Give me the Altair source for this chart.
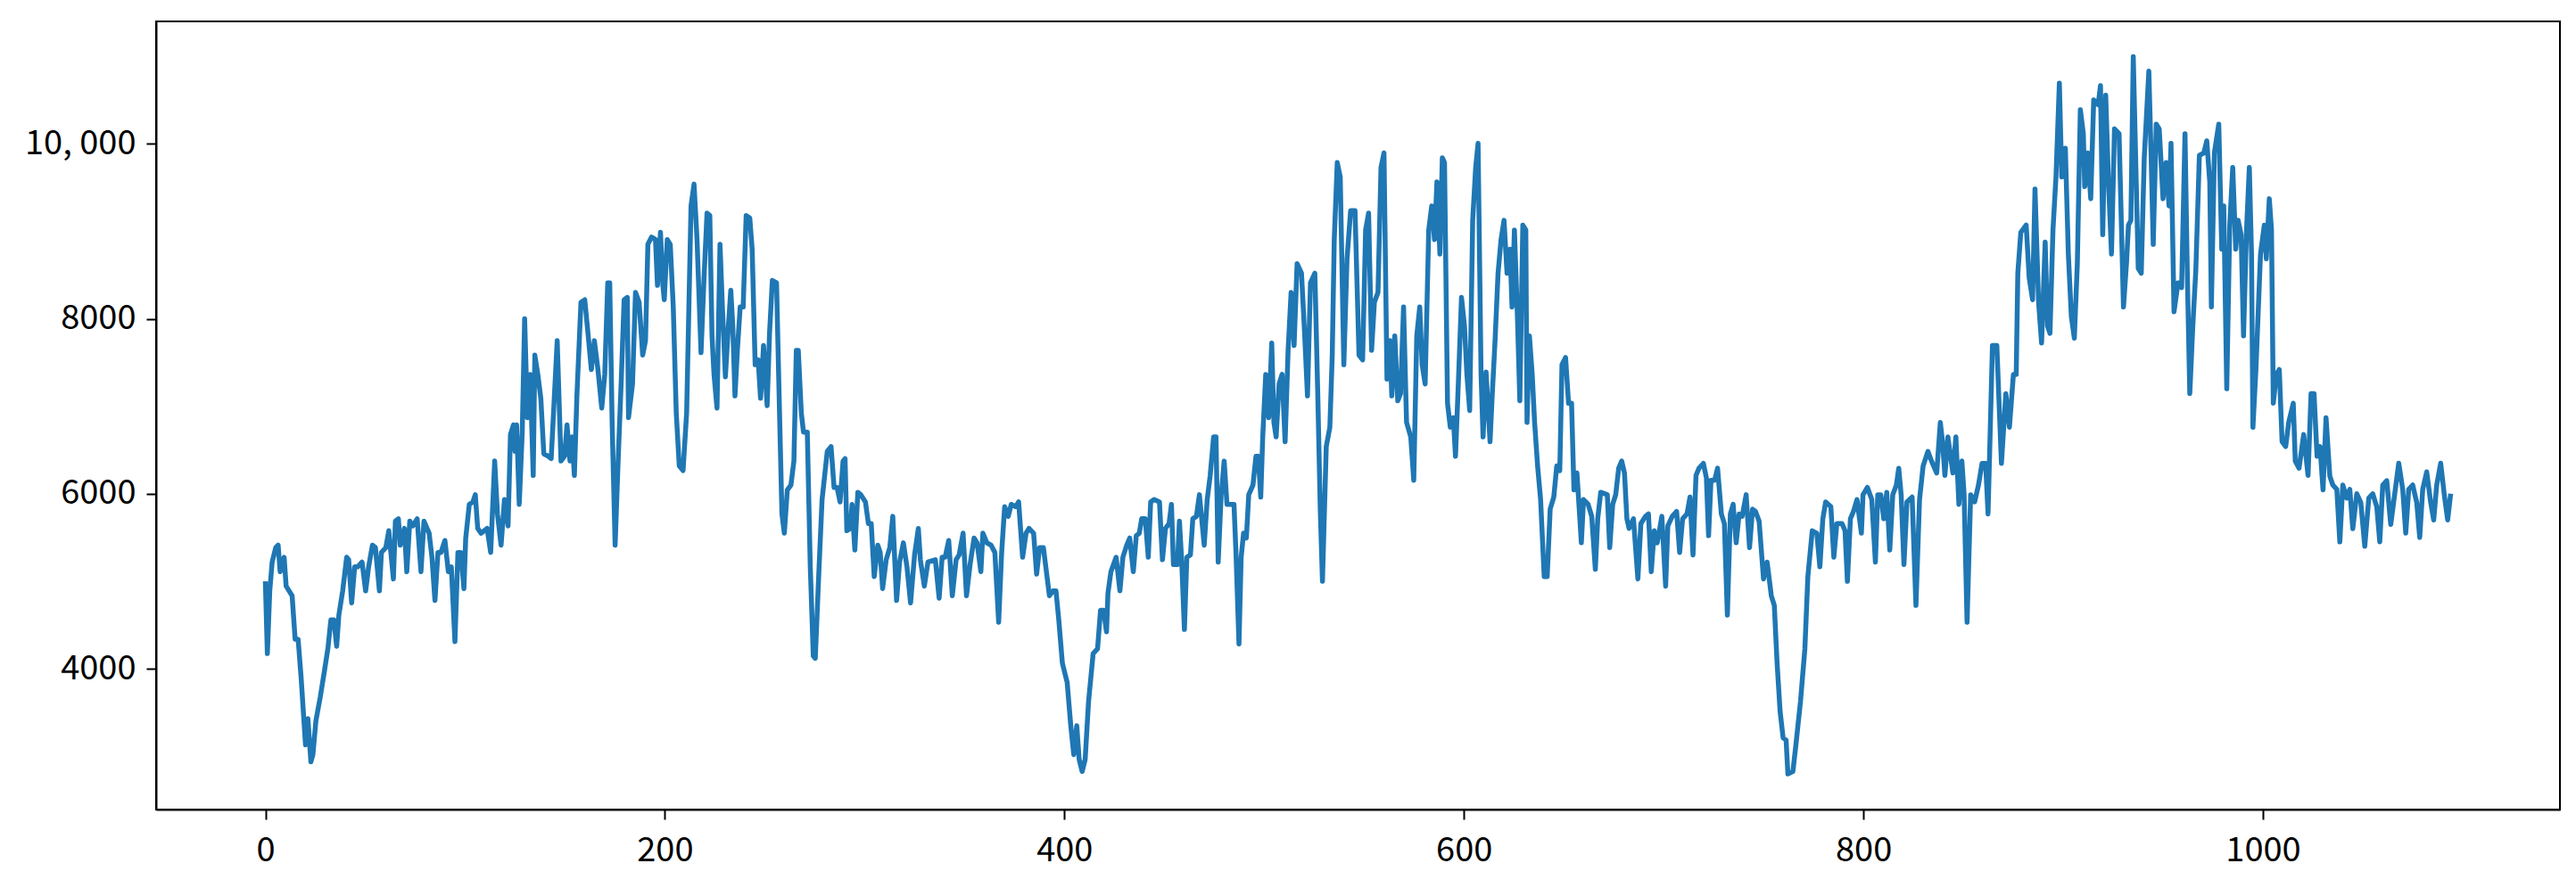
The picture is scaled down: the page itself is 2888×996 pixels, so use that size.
import altair as alt
import pandas as pd

# (day, value) vertices
seg1 = [(0,4999),(1,4173),(2.2,4889),(3.4,5219),(5.2,5384),(6.4,5412),(7.4,5109),(9.4,5274),(10.4,4944),
        (13.4,4834),(14.9,4338),(16.4,4338),(17.9,3898),(20.1,3128),(21.3,3430),(22.8,2935),(23.8,3018),
        (25.3,3403),(27.5,3678),(29.8,4008),(31.3,4228),(32.8,4558),(34.3,4558),(35.7,4256),(36.8,4613),
        (38.7,4889),(40.7,5274),(41.7,5246),(43.2,4751),(44.7,5164),(46.2,5164),(48.4,5219),(50.2,4889),
        (51.7,5164),(53.6,5412),(55.1,5384),(57.1,4889),(58.1,5329),(60.3,5384),(61.8,5577),(64.1,5026),
        (65.1,5687),(66.6,5714),(67.5,5412),(69.6,5604),(70.8,5109),(72.3,5687),(73.8,5632),(76,5714),
        (77.9,5109),(79.4,5687),(82,5549),(83.4,5274),(84.9,4779),(86.4,5329),(87.9,5329),(89.9,5466)]
seg2 = [(91.6,5109),(93.1,5164),(94.9,4310),(96.4,5329),(97.9,5329),(99.4,4916),(100.3,5494),(102.1,5879),
        (103.9,5907),(105.1,5989),(106.3,5604),(108,5549),(111,5604),(112.8,5329),(114.8,6374),(116.2,5769),
        (118,5412),(119.7,5934),(121.5,5632),(122.7,6677),(124.2,6787),(125,6484),(125.8,6787),(127.1,5879),
        (128.6,6705),(129.8,8000),(131.2,6870),(132.6,7365),(134.1,6209),(134.9,7585),(136.4,7365),(137.9,7090),
        (139.4,6457),(141.6,6429),(143.1,6402),(146.1,7750),(148,6374),(149.8,6429),(151,6787),(152.5,6374),
        (153.5,6650),(154.7,6209),(156,7145),(158,8190),(159.9,8218),(161.4,7860),(163.2,7420),(164.7,7750),
        (166.5,7420),(168.4,6980),(169.9,7365),(171.4,8411),(172.4,8411),(173.6,6815),(175.1,5412),(176.6,6374),
        (178.1,7255),(179.6,8218),(181.2,8245),(181.8,6870),(183.8,7255),(185.3,8301)]
seg3 = [(187.1,8190),(188.9,7585),(190.3,7750),(191.5,8851),(193.3,8934),(195.3,8906),(196.3,8383),(197.8,8989),
        (199,8383),(199.7,8218),(201.2,8906),(202.7,8851),(204.2,8135),(205.7,6925),(207.2,6319),(209.1,6264),
        (210.9,6925),(213.1,9291),(214.6,9539),(216.1,8906),(218.1,7613),(219.6,8466),(221.1,9208),(222.5,9181),
        (223.6,7805),(224.6,7365),(226.1,6980),(227.6,8851),(228.8,8135),(230.3,7337),(231.8,7915),(233,8328),
        (234,7915),(235.1,7118),(236.3,7640),(237.7,8135),(239.2,8135),(240.7,9181),(242.5,9153),(243.7,8796),
        (245.2,7475),(246.7,7530),(247.9,7090),(249.4,7695),(251.2,7007),(252.4,7833),(253.8,8438),(255.9,8411),
        (257.4,6925),(258.6,5769),(259.8,5549),(261.3,6044),(263.1,6099),(264.6,6374),(265.8,7640),(266.8,7640),
        (268.3,6925),(269.4,6705),(271.3,6705),(272.8,5164),(274.3,4145),(275.3,4118),(277.2,5164),(278.7,5934)]
seg4 = [(281.3,6484),(283.2,6539),(284.7,6072),(286.2,6072),(287.7,5907),(289.2,6374),(290.2,6402),(291.1,5577),
        (292.9,5604),(293.7,5879),(295.1,5357),(296.6,6017),(298.1,5989),(300.4,5907),(301.9,5659),(303.3,5659),
        (304.8,5054),(306.6,5412),(307.8,5329),(309,4916),(310.8,5246),(312.6,5384),(314.1,5742),(316,4779),
        (317.5,5219),(319.4,5439),(321.2,5164),(323,4751),(325,5301),(326.9,5604),(327.9,5246),(329.9,4944),
        (331.7,5219),(335.4,5246),(337.3,4806),(338.8,5274),(340.3,5274),(342.1,5466),(343.9,4834),(345.8,5246),
        (347.3,5301),(349.3,5549),(351,4834),(352.8,5191),(354.8,5494),(356.3,5439),(358.2,5109),(359.2,5549),
        (361.2,5439),(363.3,5412),(365.2,5329),(367.1,4531),(368.6,5329),(370.1,5852),(371.9,5742),(373.4,5879)]
seg5 = [(375.6,5852),(377.1,5907),(379.1,5274),(380.8,5549),(382.3,5604),(384.6,5549),(386.1,5081),(387.6,5384),
        (389.5,5384),(392.5,4834),(394.3,4889),(395.8,4889),(397.2,4558),(399,4063),(401.4,3843),(403.2,3348),
        (404.7,3018),(406.2,3348),(407.4,2963),(408.9,2825),(410.4,2963),(412.1,3623),(414.4,4173),(416.6,4228),
        (418.1,4668),(419.6,4668),(421.1,4421),(421.8,4861),(423.3,5109),(425.9,5274),(427.8,4889),(429.3,5274),
        (431.2,5412),(432.7,5494),(434.5,5109),(436,5521),(437.5,5549),(438.7,5714),(440.5,5714),(442,5274),
        (443.2,5907),(444.9,5934),(447.6,5907),(449.1,5246),(450.6,5604),(452.4,5659),(453.6,5879),(454.6,5191),
        (456.6,5191),(457.6,5687),(458.7,5246),(460.1,4448),(461.3,5274),(463.1,5301),(464.3,5714),(466.1,5742),
        (467.6,5989)]
seg6 = [(470,5412),(471.5,5934),(473,6209),(474.7,6650),(475.9,6650),(477,5219),(478.5,5989),(480,6374),
        (481.4,5879),(484.9,5879),(485.9,5329),(487.4,4283),(488.5,5274),(489.7,5549),(491.1,5494),(492.3,5989),
        (494.4,6099),(495.9,6429),(497.1,6429),(498.3,5962),(499.3,6650),(500.8,7365),(502.3,6870),(503.8,7723),
        (504.9,6815),(506,6650),(507.5,7255),(509,7365),(510.5,6595),(512,7640),(513.5,8301),(515,7695),
        (516.5,8631),(518.7,8521),(520.2,7860),(521.7,7118),(523.2,8411),(525.4,8521),(526.9,7090),(528.1,5824),
        (529.2,4999),(531.1,6540),(532.9,6760),(534.1,7585),(535.1,8906),(536.6,9786),(538.1,9621),(539.9,7475),
        (541.5,8686),(543.3,9236),(545.5,9236),(547.5,7585),(549.3,7530),(550.8,9016),(552.3,9208),(553.8,7640),
        (555.2,8190),(557,8301),(558.5,9731),(560,9896)]
seg7 = [(561.5,7310),(563,7750),(563.9,7118),(565.4,7805),(566.9,7063),(568.3,7145),(569.8,8135),(571.3,6815),
        (573.4,6650),(574.9,6154),(576.4,7805),(577.9,8135),(579.1,7475),(580.6,7255),(582.4,9016),(583.9,9291),
        (585.3,8906),(586.5,9566),(588,8741),(589.2,9841),(590.3,9786),(591.8,7035),(593.2,6760),(594.7,6870),
        (595.8,6429),(597.3,7310),(598.8,8245),(600.3,7915),(601.5,7365),(602.9,6952),(604.4,9126),(605.9,9731),
        (607.1,10006),(608.6,7365),(609.6,6650),(611.1,7393),(613.1,6595),(614.1,7090),(615.6,7750),(617.1,8521),
        (618.6,8906),(620.1,9126),(621.6,8521),(623.1,8796),(624.1,8135),(625.3,9016),(626.8,8025),(628,7063),
        (629.5,9071),(631,9016),(631.6,6815),(632.8,7805),(634.2,7365),(635.4,6815),(636.9,6319),(638.4,5934),
        (640.2,5054),(641.7,5054),(643.2,5824),(645,5962),(646.5,6319),(648,6264),(649.1,7475),(650.9,7558),
        (652.4,7035),(653.9,7035),(655.1,6044)]
seg8 = [(656.6,6237),(658.8,5439),(659.9,5934),(662.2,5879),(664,5742),(665.8,5136),(667,5714),(668.5,6017),
        (671.8,5989),(673,5384),(674.5,5879),(676,5989),(677.5,6292),(679,6374),(680.4,6237),(681.6,5714),
        (682.7,5604),(684.9,5714),(687.1,5026),(688.6,5659),(690.9,5742),(692.4,5769),(693.8,5109),(695.3,5577),
        (696.8,5439),(699.1,5742),(701,4944),(702.1,5632),(704.3,5742),(706.5,5797),(708,5329),(709.5,5714),
        (711.7,5769),(713.2,5962),(714.7,5301),(716.2,6209),(717.7,6292),(719.9,6347),(721.4,6182),(722.5,5521),
        (723.7,6154),(725.5,6154),(727,6292),(728.9,5769),(730.4,5659),(731.9,4613),(733.4,5769),(734.8,5879),
        (736.3,5439),(737.8,5769),(739.3,5742),(741.3,5989),(743,5384),(744.5,5824),(746,5797),(747.8,5687),
        (750,5026),(751.8,5219)]
seg9 = [(753.9,4834),(755.4,4723),(756.8,4063),(758.3,3513),(759.8,3210),(761.3,3183),(762.2,2797),(764.7,2825),
        (766.2,3128),(768.5,3623),(770.7,4228),(772.2,5054),(774.4,5577),(776.7,5549),(778.2,5164),(779.7,5714),
        (781.1,5907),(783.7,5852),(785.2,5274),(786.7,5659),(789.3,5659),(790.8,5577),(792,4999),(793.5,5714),
        (795,5797),(796.8,5934),(799,5549),(799.8,5989),(802,6072),(804.2,5934),(806,5219),(807.2,5989),
        (808.7,5989),(810.2,5714),(811.7,6017),(813.2,5357),(814.7,5989),(816.5,6099),(817.7,6292),(818.9,5989),
        (820.3,5191),(821.8,5907),(824.4,5962),(826.3,4723),(828.1,5934),(829.9,6319),(832.3,6484),(834.1,6374),
        (836.7,6237),(838.5,6815),(839.6,6595),(840.8,6209),(842.3,6650)]
seg10 = [(844.8,6237),(846.3,6650),(847.8,5879),(849.3,6374),(850.4,6000),(851.9,4531),(853.7,5989),(855.7,5907),
         (857.6,6099),(859.4,6347),(861.2,6347),(862.4,5769),(864.6,7695),(866.8,7695),(869.1,6347),(871.3,7145),
         (873.1,6760),(875.1,7365),(876.5,7365),(877.3,8521),(878.8,8989),(881.5,9071),(883,8466),(884.7,8218),
         (885.9,9484),(887.7,8190),(889.2,7723),(891,8878),(892.2,7915),(893.4,7833),(894.9,9016),(896.4,9621),
         (898.1,10694),(899.3,9621),(901.1,9951),(902.6,8741),(904.1,8025),(905.6,7778),(907.1,8631),(908.6,10392),
         (910.1,10116),(910.8,9511),(912.3,9896),(913.8,9373),(915.3,10502),(917.5,10447),(918.7,10667),(919.8,8961),
         (921.3,10557),(922.7,9566),(924.2,8741),(925.7,10171),(928,10116),(930.2,8135),(931.7,8631),(932.7,9071),
         (933.9,9126),(935.1,10997)]
seg11 = [(937.6,8576),(939.1,8521),(940.6,9841),(942.9,10832),(944,9896),(945.1,8851),(946.6,10226),(948.1,10171),
         (950,9373),(951.5,9786),(953,9291),(954,10006),(955.5,8081),(957.5,8411),(959.3,8356),(961,10116),
         (962.2,8466),(963.4,7145),(964.9,7915),(966.4,8548),(968.2,9869),(970.4,9896),(971.9,10034),(973.4,9566),
         (974.2,8136),(975.7,9896),(977.9,10226),(979.4,8796),(980.4,9291),(981.9,7200),(983.4,9071),(984.9,9731),
         (986.4,8796),(987.6,9126),(989.1,8961),(990.3,7805),(991.8,9016),(993.2,9731),(994.3,8741),(995,6760),
         (996.5,7420),(998.8,8741),(1000.7,9071),(1001.7,8686),(1003.2,9373),(1004.3,9016),(1005.2,7035),(1006.7,7365),
         (1008.2,7420),(1009.6,6595),(1011.4,6540),(1012.9,6815),(1015.2,7035),(1016.2,6374),(1018.1,6292),(1020.4,6677),
         (1022.6,6209),(1024.1,7145),(1025.6,7145),(1027.1,6429),(1028.6,6540),(1030.1,6044),(1031.6,6870)]
seg12 = [(1033.5,6200),(1035,6100),(1037,6050),(1038.5,5450),(1040,6100),(1042,5950),(1043.5,6050),(1045,5600),
         (1047,6000),(1049,5900),(1051,5400),(1053,5950),(1055,6000),(1057,5850),(1058.5,5450),(1060,6100),
         (1062,6150),(1064,5650),(1066,6000),(1068,6350),(1070,6050),(1071.5,5550),(1073,6050),(1075,6100),
         (1077,5900),(1078.5,5500),(1080,6050),(1082,6250),(1084,5900),(1085.5,5700),(1087,6100),(1089,6350),
         (1091,5950),(1092.5,5700),(1094,6000)]

x_ticks = [0, 200, 400, 600, 800, 1000]
y_ticks = [4000, 6000, 8000, 10000]

rows = []
for seg in [seg1, seg2, seg3, seg4, seg5, seg6, seg7, seg8, seg9, seg10, seg11, seg12]:
    for d, v in seg:
        rows.append({"day": d, "value": v, "i": len(rows)})
df = pd.DataFrame(rows)

FONT = "Noto Sans CJK SC"

line = alt.Chart(df).mark_line(color="#1f77b4", strokeWidth=5.5, strokeJoin="round").encode(
    x=alt.X("day:Q",
            scale=alt.Scale(domain=[-54.7, 1148.7], nice=False, zero=False),
            axis=alt.Axis(values=x_ticks, title=None, grid=False, format="d",
                          labelPadding=16)),
    y=alt.Y("value:Q",
            scale=alt.Scale(domain=[2390, 11400], nice=False, zero=False),
            axis=alt.Axis(values=y_ticks, title=None, grid=False,
                          labelExpr="datum.value == 10000 ? '10, 000' : format(datum.value, 'd')",
                          labelPadding=12)),
    order="i:Q",
)

chart = line.properties(
    width=2695, height=884,
    autosize=alt.AutoSizeParams(type="none"),
    padding={"left": 167, "top": 16, "right": 10, "bottom": 70},
).configure_view(
    stroke="black", strokeWidth=2
).configure_axis(
    domainColor="black", domainWidth=2,
    tickColor="black", tickWidth=2, tickSize=11,
    labelColor="black", labelFont=FONT, labelFontSize=38,
)

chart.save("out.html", embed_options={"renderer": "svg", "actions": False})
